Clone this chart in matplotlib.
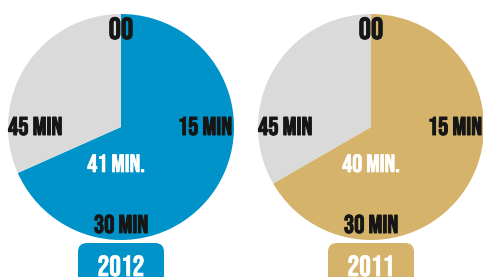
import matplotlib
matplotlib.use("Agg")
import matplotlib.pyplot as plt
import matplotlib.patheffects as pe
from matplotlib.patches import FancyBboxPatch

plt.rcParams['font.family'] = ['Bebas Neue', 'DejaVu Sans']

years = ['2012', '2011']
minutes = [41, 40]
total = 60
colors = ['#0093C9', '#D5B36B']
rest_color = '#DADADA'
clock_labels = ['00', '15 MIN', '30 MIN', '45 MIN']
center_labels = ['41 MIN.', '40 MIN.']

W, H = 483, 277
fig = plt.figure(figsize=(W / 100, H / 100), dpi=100)
ax = fig.add_axes([0, 0, 1, 1])

centers_x = [121, 371]
center_dx = [-5, 0]
cy_pix = 127
R = 113

def Y(p):
    return H - p

dark = '#161616'
bold_dark = [pe.withStroke(linewidth=0.7, foreground=dark)]
bold_white = [pe.withStroke(linewidth=0.5, foreground='white')]

for i in range(2):
    cx = centers_x[i]
    cy = Y(cy_pix)
    ax.pie([minutes[i], total - minutes[i]], colors=[colors[i], rest_color],
           startangle=90, counterclock=False, center=(cx, cy), radius=R,
           wedgeprops=dict(linewidth=0), frame=True)
    txt = dict(color=dark, va='baseline', path_effects=bold_dark)
    ax.text(cx, Y(39), clock_labels[0], ha='center', fontsize=22, **txt)
    ax.text(cx + 111, Y(135), clock_labels[1], ha='right', fontsize=18.5, **txt)
    ax.text(cx, Y(233), clock_labels[2], ha='center', fontsize=18.5, **txt)
    ax.text(cx - 113, Y(135), clock_labels[3], ha='left', fontsize=18.5, **txt)
    ax.text(cx + center_dx[i], Y(172), center_labels[i], ha='center', va='baseline',
            fontsize=18, color='white', path_effects=bold_white)
    box = FancyBboxPatch((cx - 43, Y(300)), 86, 57,
                         boxstyle='round,pad=0,rounding_size=9',
                         facecolor=colors[i], edgecolor='none')
    ax.add_patch(box)
    ax.text(cx, Y(276), years[i], ha='center', va='baseline', fontsize=21,
            color='white', path_effects=bold_white)

ax.set_xlim(0, W)
ax.set_ylim(0, H)
ax.set_aspect('equal')
ax.axis('off')
fig.savefig('out.png', dpi=100)
